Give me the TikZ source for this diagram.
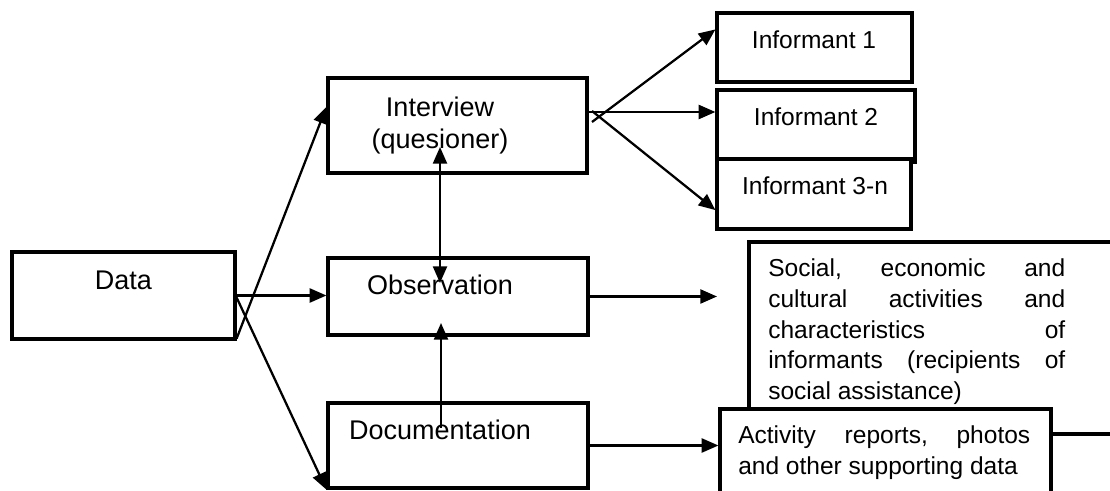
\documentclass[tikz,border=0pt]{standalone}
\usepackage{fontspec}
\setmainfont{Liberation Sans}
\usetikzlibrary{arrows.meta,calc,fit}
\begin{document}
\begin{tikzpicture}[x=0.75pt,y=-0.75pt,
  box/.style={draw, line width=2.4pt, fill=white, inner sep=0pt, rectangle},
  conn/.style={line width=1.7pt, -{Triangle[length=12.5pt,width=10.5pt]}},
  biconn/.style={line width=1.7pt, {Triangle[length=12.5pt,width=10.5pt]}-{Triangle[length=12.5pt,width=10.5pt]}},
  lfont/.style={font=\fontsize{20.25}{24}\selectfont},
  rfont/.style={font=\fontsize{18.4}{23}\selectfont},
  txt/.style={inner sep=0pt, anchor=base}]
\useasboundingbox (0,0) rectangle (1110,491);
\clip (0,0) rectangle (1110,491);
% boxes
\node[box, fit={(12,252) (235,339)}] (data) {};
\node[box, fit={(328,78) (587,173)}] (interview) {};
\node[box, fit={(328,258) (588,335)}] (observation) {};
\node[box, fit={(328,403) (588,488)}] (documentation) {};
\node[box, fit={(717,13) (912,82)}] (inf1) {};
\node[box, fit={(717,90) (915,162)}] (inf2) {};
\node[box, fit={(717,159) (911,229)}] (inf3) {};
\node[box, fit={(749,242) (1130,434)}] (social) {};
\node[box, fit={(720,409) (1051,530)}] (activity) {};
% texts
\node[txt, lfont] (tdata) at (123.5,290) {Data};
\node[txt, lfont] (tint1) at (440,117) {Interview};
\node[txt, lfont] (tint2) at (440,149) {(quesioner)};
\node[txt, lfont] (tobs) at (440,295) {Observation};
\node[txt, lfont] (tdoc) at (440,440) {Documentation};
\node[txt, rfont] (tinf1) at (814,49) {Informant 1};
\node[txt, rfont] (tinf2) at (816,126) {Informant 2};
\node[txt, rfont] (tinf3) at (815,195) {Informant 3-n};
\node[inner sep=0pt, anchor=base west, rfont] (tsoc) at (768,277) {\vtop{\hsize=222.75pt \baselineskip=22.9pt
  \hbox to\hsize{Social,\hfill economic\hfill and}
  \hbox to\hsize{cultural\hfill activities\hfill and}
  \hbox to\hsize{characteristics\hfill of}
  \hbox to\hsize{informants\hfill (recipients\hfill of}
  \hbox{social assistance)}}};
\node[inner sep=0pt, anchor=base west, rfont] (tact) at (738,443) {\vtop{\hsize=219pt \baselineskip=24pt
  \hbox to\hsize{Activity\hfill reports,\hfill photos}
  \hbox{and other supporting data}}};
% coordinates
\coordinate (ivtip) at (440,147);
\coordinate (obtip) at (440,283);
\coordinate (doctop) at (441,428);
\coordinate (obbot) at (441,323);
\coordinate (ia) at (592,122);
\coordinate (ib) at (589,112);
\coordinate (ic) at (592,111);
\coordinate (socin) at (717,296);
% connectors
\draw[conn] ([yshift=1.5pt]data.south east) -- ($(interview.north west)!0.31!(interview.south west)$);
\draw[conn] (data.east) -- (data.east -| observation.west);
\draw[conn] ([yshift=-1.5pt]data.east) -- (documentation.south west);
\draw[biconn] (ivtip) -- (obtip);
\draw[conn] (doctop) -- (obbot);
\draw[conn] (ia) -- ($(inf1.north west)!0.25!(inf1.south west)$);
\draw[conn] (ib) -- (ib -| inf2.west);
\draw[conn] (ic) -- ($(inf3.north west)!0.72!(inf3.south west)$);
\draw[conn] (observation.east) -- (observation.east -| socin);
\draw[conn] (documentation.east) -- (documentation.east -| activity.west);
\end{tikzpicture}
\end{document}
